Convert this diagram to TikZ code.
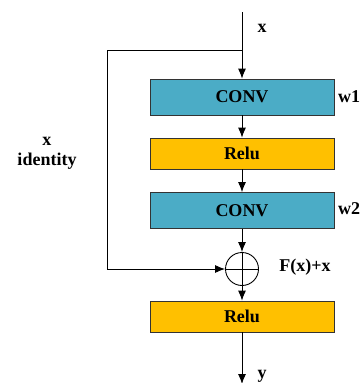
\documentclass[tikz,border=0pt]{standalone}
\usepackage{fontspec}
\setmainfont{Liberation Serif}
\usetikzlibrary{arrows.meta}
\definecolor{convc}{HTML}{4BACC6}
\definecolor{reluc}{HTML}{FFC000}
\tikzset{
  blk/.style={draw=black!80, line width=0.8pt, minimum width=184pt, inner sep=0pt, font=\fontsize{18}{20}\selectfont\bfseries},
  convbox/.style={blk, fill=convc, minimum height=36pt},
  relubox/.style={blk, fill=reluc, minimum height=31pt},
  lbl/.style={font=\fontsize{18}{20}\selectfont\bfseries, inner sep=0pt},
  arr/.style={line width=0.9pt, -{Latex[length=10pt,width=8pt]}},
  ln/.style={line width=0.9pt}
}
\begin{document}
\begin{tikzpicture}[x=1pt,y=-1pt]
\useasboundingbox (0,0) rectangle (361,383);
\fill[white] (0,0) rectangle (361,383);
\coordinate (top) at (242,12);
\coordinate (br) at (242,50);
\coordinate (bl) at (107,50);
\coordinate (sl) at (107,269);
\coordinate (bot) at (242,384);
\node[convbox] (c1) at (242,97) {CONV};
\node[relubox] (r1) at (242,153.5) {Relu};
\node[convbox] (c2) at (242,210.5) {CONV};
\node[draw, circle, ln, minimum size=33pt, inner sep=0pt] (s) at (242,269) {};
\node[relubox] (r2) at (242,316.5) {Relu};
\draw[ln] (s.north) -- (s.south);
\draw[ln] (s.west) -- (s.east);
\draw[arr] (top) -- (c1.north);
\draw[ln] (br) -- (bl) -- (sl);
\draw[arr] (sl) -- (s.west);
\draw[arr] (c1.south) -- (r1.north);
\draw[arr] (r1.south) -- (c2.north);
\draw[arr] (c2.south) -- (s.north);
\draw[arr] (s.south) -- (r2.north);
\draw[arr] (r2.south) -- (bot);
\node[lbl] (lx) at (262,28) {x};
\node[lbl] (lw1) at (349,97) {w1};
\node[lbl] (lw2) at (349,209) {w2};
\node[lbl] (lf) at (305,267) {F(x)+x};
\node[lbl] (ly) at (262,376) {y};
\node[lbl, align=center] (lid) at (47,153) {x\\identity};
\end{tikzpicture}
\end{document}
